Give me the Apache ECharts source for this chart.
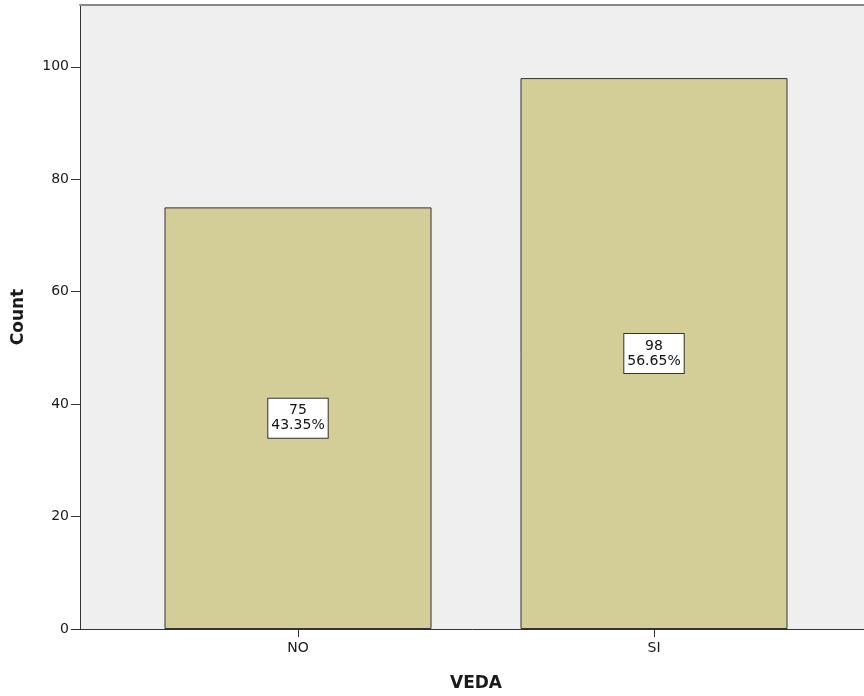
<!DOCTYPE html>
<html><head><meta charset="utf-8">
<script src="https://cdn.jsdelivr.net/npm/echarts@6/dist/echarts.min.js"></script>
<style>html,body{margin:0;padding:0;background:#fff}#c{width:864px;height:696px}</style>
</head><body><div id="c"></div>
<script>
const categories = ['NO', 'SI'];
const counts = [75, 98];
const yTicks = [0, 20, 40, 60, 80, 100];

const total = counts.reduce((a, b) => a + b, 0);
const chart = echarts.init(document.getElementById('c'), null, {renderer: 'canvas'});
const font = '"DejaVu Sans", Verdana, sans-serif';
const TOP = 5, BOTTOM = 67;
chart.setOption({
  animation: false,
  grid: [
    {left: 80, right: -8, top: TOP, bottom: BOTTOM, show: true, backgroundColor: '#efefef', borderWidth: 0,
     containLabel: false, outerBoundsMode: 'none'},
    {left: 120, right: 32, top: TOP, bottom: BOTTOM, containLabel: false, outerBoundsMode: 'none'}
  ],
  xAxis: [
    {gridIndex: 0, type: 'category', data: [''], axisLine: {show: true, lineStyle: {color: '#333', width: 1}},
     axisTick: {show: false}, axisLabel: {show: false}, position: 'bottom'},
    {gridIndex: 0, type: 'category', data: [''], position: 'top', axisLine: {show: true, lineStyle: {color: '#888', width: 2}},
     axisTick: {show: false}, axisLabel: {show: false}},
    {gridIndex: 1, type: 'category', data: categories, axisLine: {show: false},
     axisTick: {show: true, alignWithLabel: true, length: 8, lineStyle: {color: '#333'}},
     axisLabel: {color: '#1a1a1a', fontFamily: font, fontSize: 14, margin: 12},
     name: 'VEDA', nameLocation: 'middle', nameGap: 46,
     nameTextStyle: {fontFamily: font, fontSize: 17, fontWeight: 'bold', color: '#1a1a1a'}},
    ],
  yAxis: [
    {gridIndex: 0, type: 'value', min: 0, max: 111, interval: 20,
     axisLine: {show: true, lineStyle: {color: '#333'}},
     axisTick: {show: true, length: 9, lineStyle: {color: '#333'}, customValues: yTicks},
     axisLabel: {color: '#1a1a1a', fontFamily: font, fontSize: 14, margin: 11, customValues: yTicks},
     splitLine: {show: false},
     name: 'Count', nameLocation: 'middle', nameGap: 53, nameRotate: 90,
     nameTextStyle: {fontFamily: font, fontSize: 17, fontWeight: 'bold', color: '#1a1a1a'}},
    {gridIndex: 1, type: 'value', min: 0, max: 111, interval: 20, show: false}
  ],
  series: [{
    type: 'bar', xAxisIndex: 2, yAxisIndex: 1, data: counts, barWidth: '75%',
    itemStyle: {color: '#d3ce98', borderColor: '#333', borderWidth: 1},
    label: {show: true, position: 'inside', color: '#111', fontFamily: font, fontSize: 14, lineHeight: 15,
      backgroundColor: '#fff', borderColor: '#333', borderWidth: 1, padding: [5, 3, 4, 3],
      formatter: p => p.value + '\n' + (p.value / total * 100).toFixed(2) + '%'}
  }]
});
</script></body></html>
